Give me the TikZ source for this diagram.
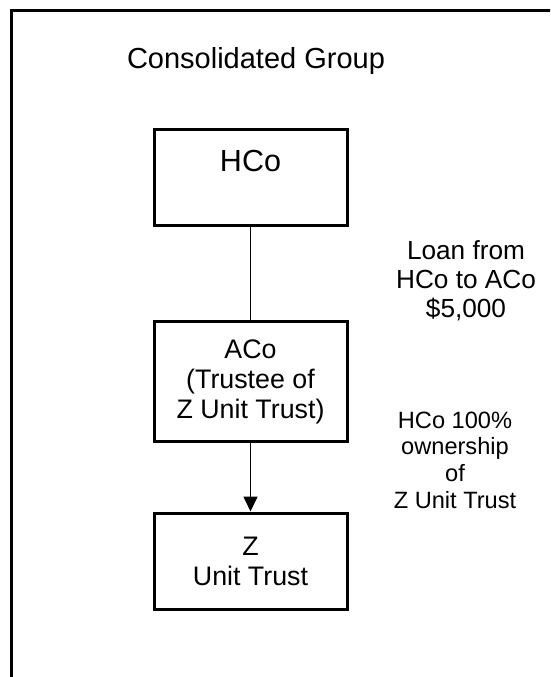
\documentclass[tikz,border=0pt]{standalone}
\usepackage{fontspec}
\setmainfont{Liberation Sans}
\usetikzlibrary{arrows.meta}
\tikzset{
  box/.style={draw=black, line width=3pt, minimum width=193pt, inner sep=0pt, align=center, font=\fontsize{26.8}{30}\selectfont},
  txt/.style={align=center, inner sep=0pt},
  conn/.style={line width=1.6pt},
  arr/.style={line width=1.6pt, -{Triangle[length=15pt,width=14pt]}}
}
\begin{document}
\begin{tikzpicture}[x=1pt,y=-1pt]
\useasboundingbox (0,0) rectangle (550,677);
\clip (0,0) rectangle (550,677);
\draw[line width=3pt] (11,11) rectangle (600,720);
\node[txt, font=\fontsize{29}{32}\selectfont] (title) at (256,61) {Consolidated Group};
\node[box, minimum height=96pt] (hco) at (250.5,177.5) {};
\node[txt, font=\fontsize{30.5}{32}\selectfont] (hcot) at (250.5,161) {HCo};
\node[box, minimum height=120pt] (aco) at (250.5,381.5) {ACo\\(Trustee of\\Z Unit Trust)};
\node[box, minimum height=96pt] (z) at (250.5,561) {Z\\Unit Trust};
\draw[conn] (hco.south) -- (aco.north);
\draw[arr] (aco.south) -- (z.north);
\node[txt, font=\fontsize{26.2}{29}\selectfont] (loan) at (466,281) {Loan from\\HCo to ACo\\\$5,000};
\node[txt, font=\fontsize{23.6}{26.7}\selectfont] (own) at (455,460) {HCo 100\%\\ownership\\of\\Z Unit Trust};
\end{tikzpicture}
\end{document}
